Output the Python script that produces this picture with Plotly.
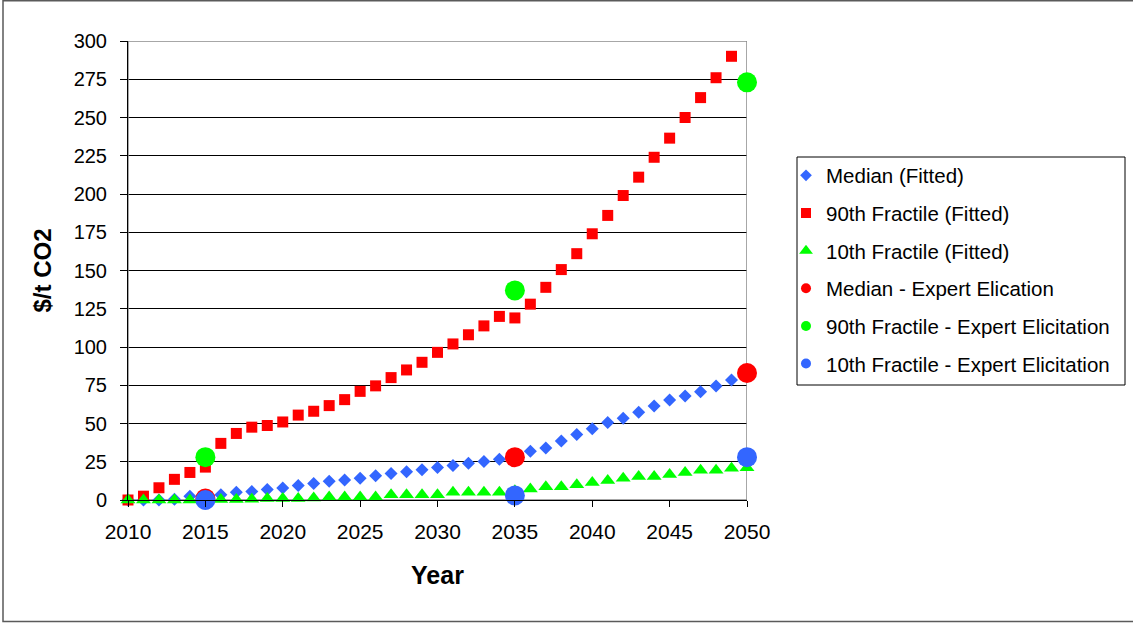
import plotly.graph_objects as go

# Years covered by the fitted series
years = list(range(2010, 2051))

# Fitted carbon price paths ($/t CO2)
median_fitted = [
    0, 0, 0, 0.5, 2.5, 3, 3.4, 5, 5.6, 6.8,
    7.9, 9.5, 10.8, 12.2, 13, 14.2, 15.8, 17.4, 18.5, 19.8,
    21.2, 22.5, 24, 25.2, 26.6, 28.5, 31.8, 34, 38.5, 42.8,
    46.6, 50.7, 53.4, 57.4, 61.5, 65.3, 68, 70.8, 74.5, 78.5,
    83,
]
p90_fitted = [
    0, 2.5, 8, 13.5, 18, 21.5, 37, 43.5, 47.6, 48.7,
    51, 55.5, 58, 61.7, 65.6, 71, 74.6, 80, 85, 90,
    96.5, 102, 108, 113.8, 120, 119, 128, 139, 150.6, 161,
    174, 186, 199, 211, 224, 236.5, 250, 263, 276, 290,
    None,
]
p10_fitted = [
    0, 0, 0, 0, 0, 0, 0.3, 0.3, 0.5, 1,
    1, 1, 1.3, 2, 2, 2, 2, 3.4, 3.4, 3.4,
    3.4, 5, 5, 5, 5, 6, 7.2, 8.6, 8.6, 9.9,
    11.5, 12.8, 14.2, 15.3, 15.3, 16.7, 18, 19.4, 19.4, 20.7,
    21,
]

# Expert elicitation points
elicit_years = [2015, 2035, 2050]
median_elicit = [1, 28, 83]
p90_elicit = [28, 137, 273]
p10_elicit = [0, 3, 28]

# Legend labels
labels = [
    "Median (Fitted)",
    "90th Fractile (Fitted)",
    "10th Fractile (Fitted)",
    "Median - Expert Elication",
    "90th Fractile - Expert Elicitation",
    "10th Fractile - Expert Elicitation",
]

BLUE = "#3366FF"
RED = "#FF0000"
GREEN = "#00FF00"
FONT = "Liberation Sans, Arial, sans-serif"

# Series: (x, y, colour, symbol, plot size, legend size)
series = [
    (years, median_fitted, BLUE, "diamond", 10, 9),
    (years, p90_fitted, RED, "square", 11, 10),
    (years, p10_fitted, GREEN, "triangle-up", 13, 12),
    (elicit_years, median_elicit, RED, "circle", 20, 10),
    (elicit_years, p90_elicit, GREEN, "circle", 20, 10),
    (elicit_years, p10_elicit, BLUE, "circle", 20, 10),
]

fig = go.Figure()

for (xs, ys, col, sym, size, _), name in zip(series, labels):
    fig.add_trace(go.Scatter(
        x=xs, y=ys, mode="markers", name=name, showlegend=False,
        cliponaxis=False,
        marker=dict(symbol=sym, size=size, color=col, line=dict(width=0)),
    ))

# Legend entries with compact marker sizes
for i, ((_, _, col, sym, _, lsize), name) in enumerate(zip(series, labels)):
    fig.add_trace(go.Scatter(
        x=[None], y=[None], mode="markers", name=name, legendgroup=f"g{i}",
        marker=dict(symbol=sym, size=lsize, color=col, line=dict(width=0)),
    ))

L, R, T, B = 128, 386, 41, 123
W, H = 1133, 623
pw, ph = W - L - R, H - T - B


def px_x(p):
    return (p - L) / pw


def px_y(p):
    return (H - B - p) / ph


fig.update_layout(
    width=W, height=H,
    margin=dict(l=L, r=R, t=T, b=B, pad=0),
    paper_bgcolor="white", plot_bgcolor="white",
    font=dict(family=FONT, size=20, color="black"),
    showlegend=True,
    legend=dict(
        x=px_x(786), y=px_y(155.5), xanchor="left", yanchor="top",
        bgcolor="rgba(0,0,0,0)", borderwidth=0,
        font=dict(family=FONT, size=20.5, color="black"),
        tracegroupgap=8, itemsizing="trace",
    ),
    xaxis=dict(
        range=[2010, 2050], tickmode="array",
        tickvals=list(range(2010, 2051, 5)),
        ticks="outside", ticklen=6, tickcolor="black", tickwidth=1,
        showline=True, linecolor="black", linewidth=1,
        showgrid=False, zeroline=False,
        tickfont=dict(family=FONT, size=21, color="black"),
        ticklabelstandoff=7,
        title=dict(text="<b>Year</b>", standoff=24,
                   font=dict(family=FONT, size=25, color="black")),
    ),
    yaxis=dict(
        range=[0, 300], tickmode="array",
        tickvals=list(range(0, 301, 25)),
        ticks="outside", ticklen=7, tickcolor="black", tickwidth=1,
        showline=True, linecolor="black", linewidth=1,
        showgrid=True, gridcolor="black", gridwidth=1, zeroline=False,
        tickfont=dict(family=FONT, size=20, color="black"),
        ticklabelstandoff=9,
        title=dict(text="<b>$/t CO2</b>", standoff=15,
                   font=dict(family=FONT, size=24, color="black")),
    ),
    shapes=[
        # plot area frame
        dict(type="rect", xref="x", yref="y", x0=2010, x1=2050, y0=0, y1=300,
             line=dict(color="#8a8a8a", width=1.5), layer="between"),
        # legend box
        dict(type="rect", xref="paper", yref="paper",
             x0=px_x(797), x1=px_x(1125), y0=px_y(385), y1=px_y(157),
             line=dict(color="black", width=1), layer="above"),
        # chart border
        dict(type="rect", xref="paper", yref="paper",
             x0=px_x(3), x1=px_x(1140), y0=px_y(621.5), y1=px_y(0.8),
             line=dict(color="#5a5a5a", width=1.5), layer="above"),
    ],
)

fig.write_html("out.html")
